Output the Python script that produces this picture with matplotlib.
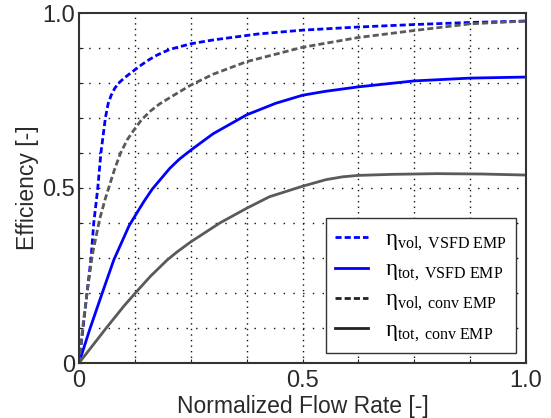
import numpy as np
import matplotlib
matplotlib.use("Agg")
import matplotlib.pyplot as plt
from matplotlib.lines import Line2D

x_vol_vsfd = [0, 0.009, 0.018, 0.027, 0.033, 0.039, 0.042, 0.049, 0.059, 0.065, 0.072, 0.08,
              0.089, 0.1, 0.119, 0.14, 0.156, 0.175, 0.203, 0.25, 0.30, 0.4, 0.5, 0.625,
              0.75, 0.875, 1.0]
y_vol_vsfd = [0, 0.1, 0.2, 0.3, 0.4, 0.466, 0.5, 0.6, 0.7, 0.74, 0.765, 0.785,
              0.8, 0.813, 0.832, 0.852, 0.866, 0.88, 0.896, 0.912, 0.923, 0.94, 0.951, 0.96,
              0.967, 0.973, 0.977]

x_tot_vsfd = [0, 0.024, 0.052, 0.078, 0.112, 0.13, 0.145, 0.164, 0.203, 0.225, 0.25,
              0.3, 0.375, 0.44, 0.5, 0.55, 0.625, 0.75, 0.875, 1.0]
y_tot_vsfd = [0, 0.096, 0.2, 0.295, 0.392, 0.43, 0.461, 0.497, 0.556, 0.583, 0.608,
              0.655, 0.709, 0.742, 0.765, 0.776, 0.789, 0.806, 0.814, 0.817]

x_vol_conv = [0, 0.01, 0.02, 0.03, 0.046, 0.059, 0.070, 0.08, 0.093, 0.108, 0.123,
              0.14, 0.16, 0.18, 0.203, 0.25, 0.3, 0.375, 0.5, 0.625, 0.75, 0.875, 1.0]
y_vol_conv = [0, 0.12, 0.22, 0.31, 0.41, 0.47, 0.515, 0.555, 0.6, 0.638, 0.666,
              0.695, 0.72, 0.74, 0.758, 0.794, 0.825, 0.861, 0.902, 0.93, 0.95, 0.969, 0.977]

x_tot_conv = [0, 0.061, 0.1, 0.126, 0.16, 0.197, 0.22, 0.25, 0.315, 0.375, 0.426, 0.5,
              0.553, 0.59, 0.625, 0.7, 0.8, 0.9, 1.0]
y_tot_conv = [0, 0.1, 0.162, 0.2, 0.248, 0.294, 0.318, 0.346, 0.40, 0.442, 0.475, 0.505,
              0.524, 0.532, 0.536, 0.539, 0.541, 0.54, 0.537]

labels = [r'$\mathrm{η}_{\mathrm{vol,\ VSFD\ EMP}}$', r'$\mathrm{η}_{\mathrm{tot,\ VSFD\ EMP}}$',
          r'$\mathrm{η}_{\mathrm{vol,\ conv\ EMP}}$', r'$\mathrm{η}_{\mathrm{tot,\ conv\ EMP}}$']

plt.rcParams['font.family'] = ['Liberation Sans', 'DejaVu Sans']
plt.rcParams['mathtext.fontset'] = 'custom'
plt.rcParams['mathtext.rm'] = 'Liberation Serif'
plt.rcParams['mathtext.it'] = 'Liberation Serif:italic'
plt.rcParams['font.size'] = 16.5

blue = '#0000ff'
gray = '#5a5a5a'
dash = (0, (2.2, 1.1))

fig = plt.figure(figsize=(5.51, 4.18), dpi=100)
ax = fig.add_axes([79/551, 55/418, 447/551, 350/418])

ax.plot(x_vol_vsfd, y_vol_vsfd, color=blue, lw=2.0, ls=dash)
ax.plot(x_tot_vsfd, y_tot_vsfd, color=blue, lw=2.0)
ax.plot(x_vol_conv, y_vol_conv, color=gray, lw=2.0, ls=dash)
ax.plot(x_tot_conv, y_tot_conv, color=gray, lw=2.0)

def lab(v):
    if abs(v) < 1e-9:
        return '0'
    if abs(v - 0.5) < 1e-9:
        return '0.5'
    if abs(v - 1) < 1e-9:
        return '1.0'
    return ''

ax.set_xlim(0, 1)
ax.set_ylim(0, 1)
xt = np.arange(0, 1.0001, 0.125)
yt = np.arange(0, 1.0001, 0.1)
ax.set_xticks(xt)
ax.set_xticklabels([lab(v) for v in xt])
ax.set_yticks(yt)
ax.set_yticklabels([lab(v) for v in yt])
ax.tick_params(direction='in', length=3, width=0.8, color='#222222', labelcolor='#2a2a2a',
               labelsize=17)
ax.tick_params(axis='x', pad=5)
ax.tick_params(axis='y', pad=3)

for v in xt[1:-1]:
    ax.axvline(v, color='#111111', lw=1.0, ls=(0, (1, 3)), zorder=0)
for v in yt[1:-1]:
    ax.axhline(v, color='#111111', lw=1.0, ls=(0, (1, 6)), zorder=0)

for s in ax.spines.values():
    s.set_color('#333333')
    s.set_linewidth(1.5)

ax.set_xlabel('Normalized Flow Rate [-]', color='#2a2a2a', labelpad=2)
ax.set_ylabel('Efficiency [-]', color='#2a2a2a', labelpad=2)

handles = [Line2D([], [], color=blue, lw=2.0, ls=dash),
           Line2D([], [], color=blue, lw=2.0),
           Line2D([], [], color='#222222', lw=2.0, ls=dash),
           Line2D([], [], color='#222222', lw=2.0)]
leg = ax.legend(handles, labels, loc='lower right', bbox_to_anchor=(0.978, 0.029),
                borderaxespad=0, fancybox=False, framealpha=1, edgecolor='#333333',
                fontsize=16.5, handlelength=1.45, handletextpad=0.75, labelspacing=0.2,
                borderpad=0.4)
leg.get_frame().set_linewidth(1.0)

fig.savefig('out.png', dpi=100)
